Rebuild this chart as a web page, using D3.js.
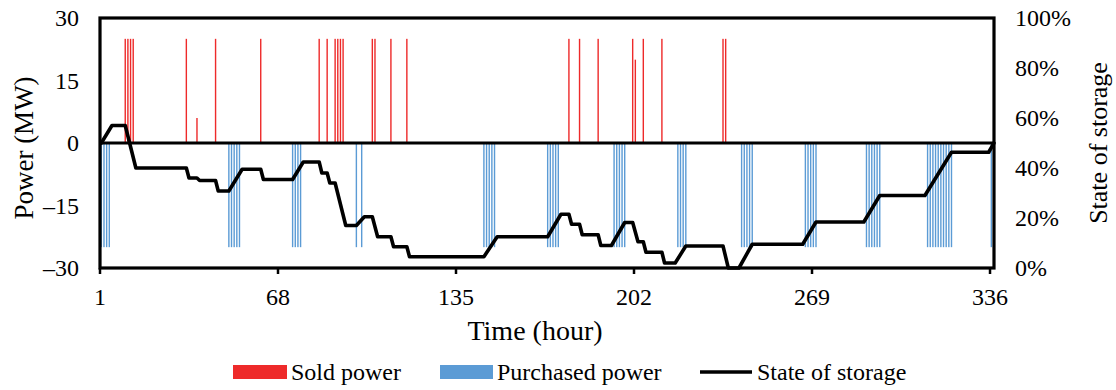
<!DOCTYPE html>
<html>
<head>
<meta charset="utf-8">
<script src="https://cdn.jsdelivr.net/npm/d3@7"></script>
<style>
  html, body { margin: 0; padding: 0; background: #fff; }
  svg { display: block; }
  text { font-family: "Liberation Serif", "Times New Roman", serif; fill: #000; }
</style>
</head>
<body>
<div id="chart"></div>
<script>
// ---------- data ----------
const xTickValues = [1, 68, 135, 202, 269, 336];
const leftTickValues = [-30, -15, 0, 15, 30];
const rightTickValues = [0, 0.2, 0.4, 0.6, 0.8, 1.0];

const soldHours = [10, 11, 12, 13, 33, 37, 44, 61, 83, 86, 89, 90, 91, 92, 103, 104, 110, 116,
                   177, 181, 188, 201, 202, 205, 212, 235, 236];
const soldPower = [25, 25, 25, 25, 25, 6, 25, 25, 25, 25, 25, 25, 25, 25, 25, 25, 25, 25,
                   25, 25, 25, 25, 20, 25, 25, 25, 25];

const purchasedHours = [1, 2, 3, 4, 49, 50, 51, 52, 53, 73, 74, 75, 76, 97, 99,
                        145, 146, 147, 148, 149, 169, 170, 171, 172, 173,
                        194, 195, 196, 197, 198, 218, 219, 220, 221,
                        242, 243, 244, 245, 246, 266, 267, 268, 269, 270,
                        289, 290, 291, 292, 293, 294,
                        312, 313, 314, 315, 316, 317, 318, 319, 320, 321, 336];
const purchasedPower = [-25, -25, -25, -25, -25, -25, -25, -25, -25, -25, -25, -25, -25, -25, -25,
                        -25, -25, -25, -25, -25, -25, -25, -25, -25, -25,
                        -25, -25, -25, -25, -25, -25, -25, -25, -25,
                        -25, -25, -25, -25, -25, -25, -25, -25, -25, -25,
                        -25, -25, -25, -25, -25, -25,
                        -25, -25, -25, -25, -25, -25, -25, -25, -25, -25, -25];

const socHours = [1, 5, 10, 14, 33, 34, 37, 38, 44, 45, 49, 54, 61, 62, 73, 77, 83, 84, 86, 87,
                  89, 93, 97, 100, 103, 105, 110, 111, 116, 117, 145, 150, 169, 174, 177, 178,
                  181, 182, 188, 189, 193, 198, 201, 203, 205, 206, 212, 213, 217, 221, 235, 237,
                  241, 246, 265, 270, 288, 294, 311, 321, 335, 337];
const socPercent = [50, 57, 57, 40, 40, 36, 36, 35, 35, 30.8, 30.8, 39.5, 39.5, 35.4, 35.4, 42.4, 42.4, 38, 38, 34,
                    34, 17, 17, 20.5, 20.5, 12.5, 12.5, 8.5, 8.5, 4.5, 4.5, 12.5, 12.5, 21.5, 21.5, 17.5,
                    17.5, 13.3, 13.3, 9, 9, 18.2, 18.2, 10.5, 10.5, 6.3, 6.3, 2, 2, 8.8, 8.8, 0,
                    0, 9.5, 9.5, 18.4, 18.4, 29, 29, 46.3, 46.3, 50];

const legendLabels = ["Sold power", "Purchased power", "State of storage"];

// ---------- layout ----------
const W = 1116, H = 390;
const plot = { left: 100, right: 994, top: 18, bottom: 268 };
const RED = "#EE2A2A", BLUE = "#5B9BD5";
const barW = 1.4;
const halfCat = 0.5; // categories centred between tick marks

const svg = d3.select("#chart").append("svg").attr("width", W).attr("height", H);

const x = d3.scaleLinear().domain([1, 337.5]).range([plot.left, plot.right]);
const yL = d3.scaleLinear().domain([-30, 30]).range([plot.bottom, plot.top]);
const yR = d3.scaleLinear().domain([0, 1]).range([plot.bottom, plot.top]);

const sold = soldHours.map((h, i) => ({ h, v: soldPower[i] }));
const purchased = purchasedHours.map((h, i) => ({ h, v: purchasedPower[i] }));
const soc = socHours.map((h, i) => ({ h, v: socPercent[i] / 100 }));

// bars
svg.append("g").selectAll("rect").data(sold).join("rect")
  .attr("x", d => x(d.h + halfCat) - barW / 2)
  .attr("width", barW)
  .attr("y", d => yL(d.v))
  .attr("height", d => yL(0) - yL(d.v))
  .attr("fill", RED);

svg.append("g").selectAll("rect").data(purchased).join("rect")
  .attr("x", d => x(d.h + halfCat) - barW / 2)
  .attr("width", barW)
  .attr("y", yL(0))
  .attr("height", d => yL(d.v) - yL(0))
  .attr("fill", BLUE);

// zero axis line
svg.append("line")
  .attr("x1", plot.left).attr("x2", plot.right)
  .attr("y1", yL(0)).attr("y2", yL(0))
  .attr("stroke", "#000").attr("stroke-width", 3.2);

// state of storage line
svg.append("path")
  .datum(soc)
  .attr("d", d3.line().x(d => x(d.h + halfCat)).y(d => yR(d.v)))
  .attr("fill", "none").attr("stroke", "#000")
  .attr("stroke-width", 3.6).attr("stroke-linejoin", "round").attr("stroke-linecap", "round");

// frame
svg.append("rect")
  .attr("x", plot.left).attr("y", plot.top)
  .attr("width", plot.right - plot.left).attr("height", plot.bottom - plot.top)
  .attr("fill", "none").attr("stroke", "#000").attr("stroke-width", 3.2);

// bottom ticks
const gx = svg.append("g");
gx.selectAll("line").data(xTickValues).join("line")
  .attr("x1", d => x(d)).attr("x2", d => x(d))
  .attr("y1", plot.bottom).attr("y2", plot.bottom + 6)
  .attr("stroke", "#000").attr("stroke-width", 2.5);
gx.selectAll("text").data(xTickValues).join("text")
  .attr("x", d => x(d)).attr("y", 297).attr("dy", "0.35em")
  .attr("text-anchor", "middle").style("font-size", "24px")
  .text(d => d);

// left tick labels
svg.append("g").selectAll("text").data(leftTickValues).join("text")
  .attr("x", 79).attr("y", d => yL(d)).attr("dy", "0.35em")
  .attr("text-anchor", "end").style("font-size", "24px")
  .text(d => d < 0 ? "\u2013" + Math.abs(d) : d);

// right tick labels
svg.append("g").selectAll("text").data(rightTickValues).join("text")
  .attr("x", 1015).attr("y", d => yR(d)).attr("dy", "0.35em")
  .attr("text-anchor", "start").style("font-size", "24px")
  .text(d => Math.round(d * 100) + "%");

// axis titles
svg.append("text")
  .attr("transform", "translate(24,148) rotate(-90)")
  .attr("dy", "0.35em").attr("text-anchor", "middle").style("font-size", "27px")
  .text("Power (MW)");
svg.append("text")
  .attr("transform", "translate(1098,143) rotate(-90)")
  .attr("dy", "0.35em").attr("text-anchor", "middle").style("font-size", "26px")
  .text("State of storage");
svg.append("text")
  .attr("x", 535).attr("y", 330).attr("dy", "0.35em")
  .attr("text-anchor", "middle").style("font-size", "28px")
  .text("Time (hour)");

// legend
const lg = svg.append("g");
const ly = 372;
lg.append("rect").attr("x", 233).attr("y", ly - 7).attr("width", 54).attr("height", 14).attr("fill", RED);
lg.append("text").attr("x", 291).attr("y", ly).attr("dy", "0.35em").style("font-size", "24px").text(legendLabels[0]);
lg.append("rect").attr("x", 440).attr("y", ly - 7).attr("width", 53).attr("height", 14).attr("fill", BLUE);
lg.append("text").attr("x", 497).attr("y", ly).attr("dy", "0.35em").style("font-size", "24px").text(legendLabels[1]);
lg.append("line").attr("x1", 700).attr("x2", 752).attr("y1", ly).attr("y2", ly)
  .attr("stroke", "#000").attr("stroke-width", 3.6);
lg.append("text").attr("x", 757).attr("y", ly).attr("dy", "0.35em").style("font-size", "24px").text(legendLabels[2]);
</script>
</body>
</html>
